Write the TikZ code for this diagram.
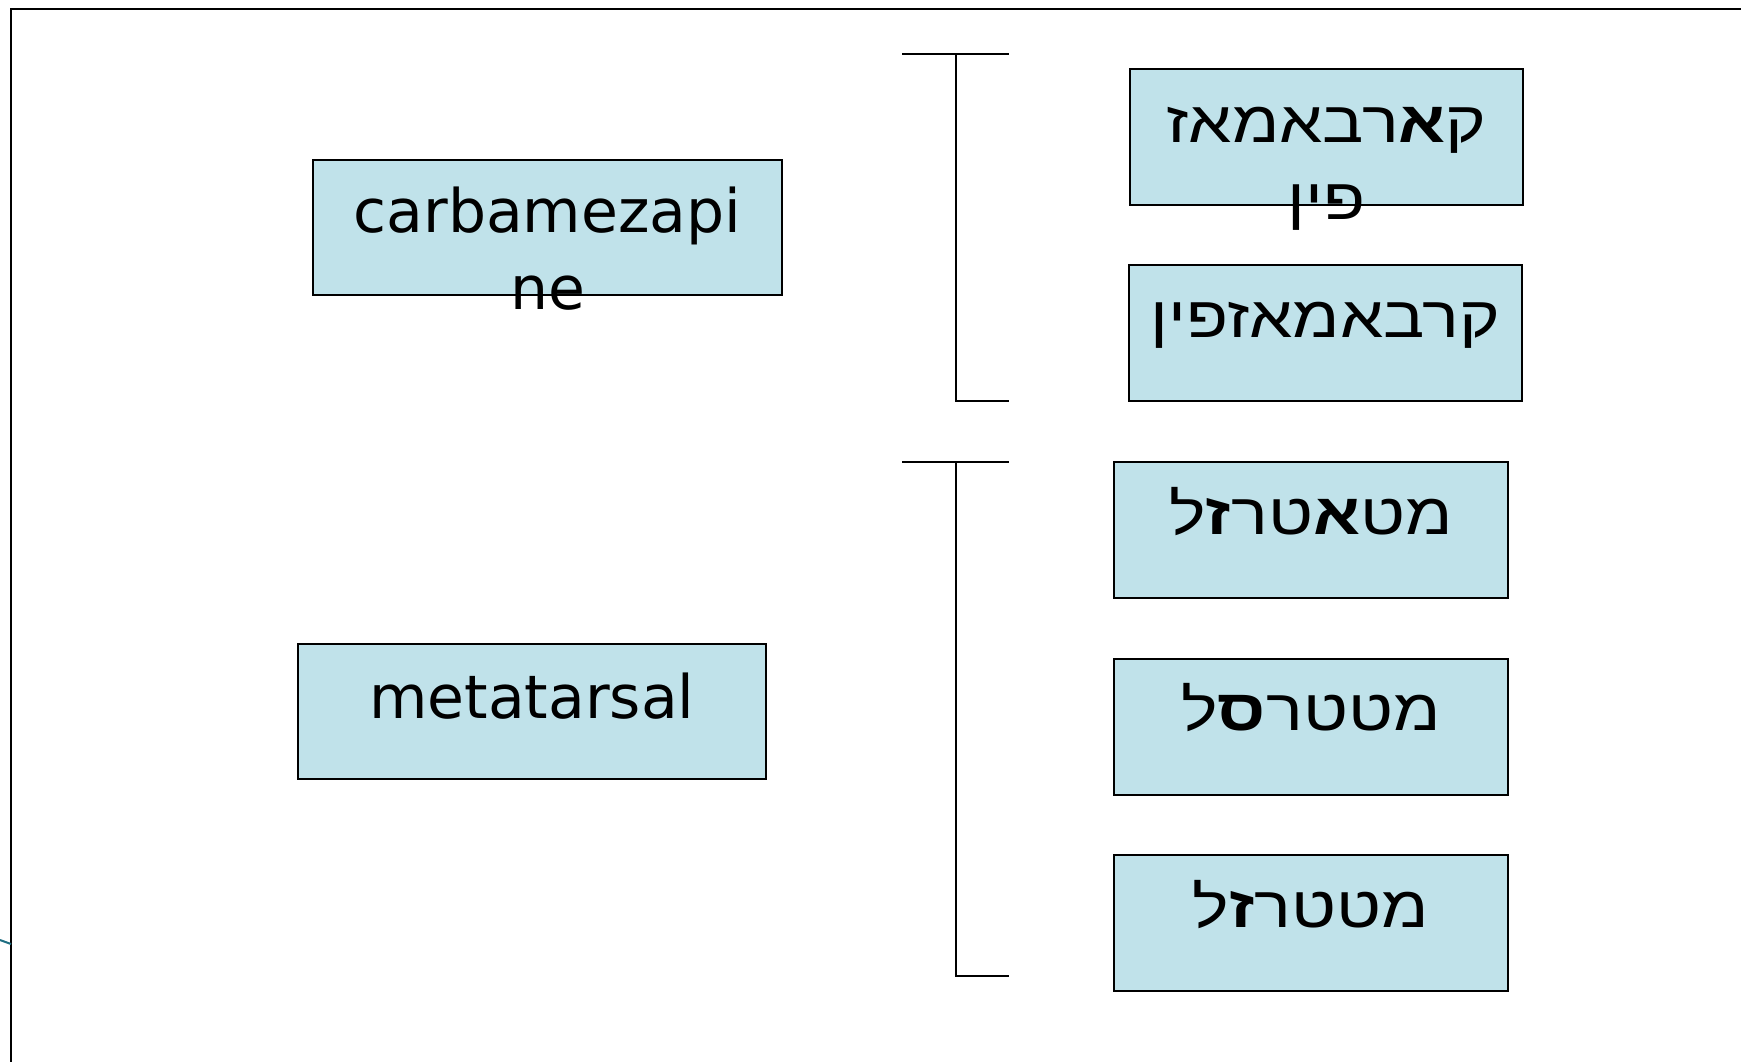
\documentclass[tikz,border=0pt]{standalone}
\usepackage{fontspec}
\setmainfont{DejaVu Sans}
\newfontfamily\hebfont[Script=Hebrew,FakeStretch=1.19]{Liberation Sans}
\TeXXeTstate=1
\usetikzlibrary{calc}
\definecolor{boxfill}{RGB}{192,226,234}
\definecolor{edgeteal}{RGB}{31,110,130}
\tikzset{
  termbox/.style={draw=black, line width=2pt, fill=boxfill, inner sep=0pt,
    minimum width=393pt, minimum height=136pt},
  widebox/.style={termbox, minimum width=469pt, minimum height=135pt},
  latin/.style={font=\fontsize{60}{72}\selectfont, anchor=base, inner sep=0pt},
  hebrew/.style={font=\hebfont\fontsize{58}{70}\selectfont, anchor=base, inner sep=0pt},
  bracket/.style={draw=black, line width=2pt},
  frameline/.style={draw=black, line width=2pt},
}
\begin{document}
\begin{tikzpicture}[x=1pt,y=-1pt]
\useasboundingbox (0,0) rectangle (1741,1061);

% outer frame (only its top and left edges fall on the page)
\draw[frameline] (11,1070) -- (11,9) -- (1750,9);
\draw[edgeteal, line width=2pt] (0,940) -- (11,944);

% English terms
\node[widebox] (carb) at (547.5,227.5) {};
\node[widebox, minimum width=468pt] (meta) at (532,711.5) {};
\node[latin] (carbA) at ($(carb.north)+(0,73)$) {carbamezapi};
\node[latin] (carbB) at ($(carb.north)+(0,150)$) {ne};
\node[latin] (metaT) at ($(meta.north)+(0,75)$) {metatarsal};

% Hebrew transcriptions
\node[termbox] (h1) at (1326.5,137) {};
\node[termbox] (h2) at (1325.5,333) {};
\node[termbox, minimum width=394pt] (h3) at (1311,530) {};
\node[termbox, minimum width=394pt] (h4) at (1311,726.5) {};
\node[termbox, minimum width=394pt] (h5) at (1311,923) {};

\node[hebrew] (h1a) at ($(h1.north)+(0,74)$) {\beginR ק{\bfseries א}רבאמאז\endR};
\node[hebrew] (h1b) at ($(h1.north)+(0,151)$) {\beginR פין\endR};
\node[hebrew] (h2t) at ($(h2.north)+(0,73)$) {\beginR קרבאמאזפין\endR};
\node[hebrew] (h3t) at ($(h3.north)+(0,73)$) {\beginR מט{\bfseries א}טר{\bfseries ז}ל\endR};
\node[hebrew] (h4t) at ($(h4.north)+(0,73)$) {\beginR מטטר{\bfseries ס}ל\endR};
\node[hebrew] (h5t) at ($(h5.north)+(0,73)$) {\beginR מטטר{\bfseries ז}ל\endR};

% brackets grouping the variants
\coordinate (b1l) at (902,54);
\coordinate (b1m) at (956,54);
\coordinate (b1r) at (1009,54);
\coordinate (b1b) at (956,401);
\coordinate (b1e) at (1009,401);
\draw[bracket] (b1l) -- (b1r);
\draw[bracket] (b1m) -- (b1b) -- (b1e);

\coordinate (b2l) at (902,462);
\coordinate (b2m) at (956,462);
\coordinate (b2r) at (1009,462);
\coordinate (b2b) at (956,976);
\coordinate (b2e) at (1009,976);
\draw[bracket] (b2l) -- (b2r);
\draw[bracket] (b2m) -- (b2b) -- (b2e);
\end{tikzpicture}
\end{document}
